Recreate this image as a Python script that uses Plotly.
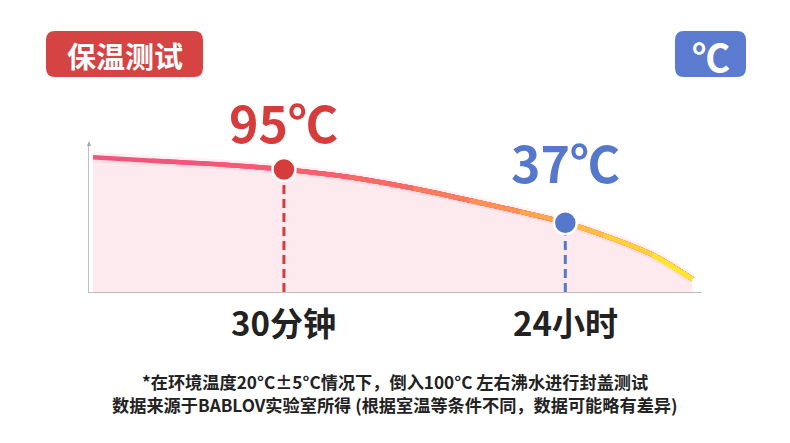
import plotly.graph_objects as go

# ---------------- data ----------------
curve_x = [0.65, 10.3, 21.0, 31.8, 42.1, 52.9, 62.2, 70.3, 77.7, 83.9, 92.0, 98.4]
curve_y = [91.0, 88.7, 86.3, 82.8, 77.9, 70.1, 61.8, 54.3, 46.8, 38.5, 25.0, 8.8]

point_x = [31.8, 77.7]
point_y = [82.8, 46.8]
point_temps = ["95℃", "37℃"]
point_times = ["30分钟", "24小时"]

title_text = "保温测试"
unit_text = "℃"
footer_lines = [
    "*在环境温度20°C±5°C情况下，倒入100°C 左右沸水进行封盖测试",
    "数据来源于BABLOV实验室所得 (根据室温等条件不同，数据可能略有差异)",
]

# ---------------- style ----------------
W, H = 790, 443
L, R, T, B = 89, 88, 144, 151
PW, PH = W - L - R, H - T - B
FONT = "Noto Sans CJK SC"
seg_colors = ["#f2557a", "#f3567a", "#f45a74", "#f7606c", "#fa6a64", "#fd7c5c",
              "#ff9252", "#ffa84a", "#ffbe42", "#ffd23a", "#ffe82c"]
point_colors = ["#d63c3c", "#5577cc"]


def px(x):
    return (x - L) / PW


def py(y):
    return (T + PH - y) / PH


def rrect(x0, y0, x1, y1, r):
    X0, X1 = px(x0), px(x1)
    Y0, Y1 = py(y0), py(y1)  # Y0 top (larger)
    rx, ry = r / PW, r / PH
    return (f"M {X0+rx},{Y0} L {X1-rx},{Y0} Q {X1},{Y0} {X1},{Y0-ry} "
            f"L {X1},{Y1+ry} Q {X1},{Y1} {X1-rx},{Y1} L {X0+rx},{Y1} "
            f"Q {X0},{Y1} {X0},{Y1+ry} L {X0},{Y0-ry} Q {X0},{Y0} {X0+rx},{Y0} Z")


fig = go.Figure()

# fill under the curve
fig.add_trace(go.Scatter(x=curve_x, y=curve_y, mode="lines", fill="tozeroy",
                         fillcolor="rgba(252,230,236,0.85)",
                         line=dict(width=0, color="rgba(0,0,0,0)", shape="spline"),
                         hoverinfo="skip", showlegend=False))
# soft glow
fig.add_trace(go.Scatter(x=curve_x, y=curve_y, mode="lines",
                         line=dict(width=10, color="rgba(245,110,140,0.10)", shape="spline"),
                         hoverinfo="skip", showlegend=False))
# gradient line (overlayed partial curves)
for k in range(len(curve_x) - 1):
    fig.add_trace(go.Scatter(x=curve_x[k:], y=curve_y[k:], mode="lines",
                             line=dict(width=4.5, color=seg_colors[k], shape="spline"),
                             hoverinfo="skip", showlegend=False))

# dashed drop lines and markers
for i in range(len(point_x)):
    fig.add_trace(go.Scatter(x=[point_x[i], point_x[i]], y=[0, point_y[i]], mode="lines",
                             line=dict(width=3, color=point_colors[i], dash="9px,5px"),
                             hoverinfo="skip", showlegend=False))
for i in range(len(point_x)):
    fig.add_trace(go.Scatter(x=[point_x[i]], y=[point_y[i]], mode="markers",
                             marker=dict(size=23, color=point_colors[i],
                                         line=dict(width=2.5, color="white")),
                             cliponaxis=False, hoverinfo="skip", showlegend=False))

shapes = [
    dict(type="path", xref="paper", yref="paper", path=rrect(46, 31, 203, 77, 9),
         fillcolor="#d54343", line=dict(width=0), layer="above"),
    dict(type="path", xref="paper", yref="paper", path=rrect(675, 31, 746, 77, 9),
         fillcolor="#5a7bd0", line=dict(width=0), layer="above"),
    # y-axis arrow head
    dict(type="path", xref="paper", yref="paper",
         path=f"M {px(87)},{py(146)} L {px(91)},{py(146)} L {px(89)},{py(141)} Z",
         fillcolor="#a9a2a5", line=dict(width=0)),
]

annotations = [
    dict(text=f"<b>{title_text}</b>", xref="paper", yref="paper", x=px(125), y=py(55),
         showarrow=False, font=dict(family=FONT, size=29, color="white"),
         xanchor="center", yanchor="middle"),
    dict(text=f"<b>{unit_text}</b>", xref="paper", yref="paper", x=px(711), y=py(55),
         showarrow=False, font=dict(family=FONT, size=38, color="white"),
         xanchor="center", yanchor="middle"),
]
label_y = [121, 161]
for i in range(len(point_x)):
    annotations.append(dict(text=f"<b>{point_temps[i]}</b>", xref="x", yref="paper",
                            x=point_x[i], y=py(label_y[i]), showarrow=False,
                            font=dict(family=FONT, size=50, color=point_colors[i]),
                            xanchor="center", yanchor="middle"))
    annotations.append(dict(text=f"<b>{point_times[i]}</b>", xref="x", yref="paper",
                            x=point_x[i], y=py(322), showarrow=False,
                            font=dict(family=FONT, size=33, color="#222222"),
                            xanchor="center", yanchor="middle"))
for j, line in enumerate(footer_lines):
    annotations.append(dict(text=f"<b>{line}</b>", xref="paper", yref="paper", x=px(395),
                            y=py(381 + 23 * j), showarrow=False,
                            font=dict(family=FONT, size=17.2, color="#222222"),
                            xanchor="center", yanchor="middle"))

fig.update_layout(
    width=W, height=H,
    margin=dict(l=L, r=R, t=T, b=B),
    paper_bgcolor="white", plot_bgcolor="white",
    xaxis=dict(range=[0, 100], showgrid=False, zeroline=False, showticklabels=False,
               ticks="", showline=True, linecolor="#c4bcbf", linewidth=1, fixedrange=True),
    yaxis=dict(range=[0, 100], showgrid=False, zeroline=False, showticklabels=False,
               ticks="", showline=True, linecolor="#c4bcbf", linewidth=1, fixedrange=True),
    shapes=shapes, annotations=annotations, showlegend=False,
)

fig.write_html("out.html", config={"displayModeBar": False},
               post_script="document.body.style.margin='0px';")
